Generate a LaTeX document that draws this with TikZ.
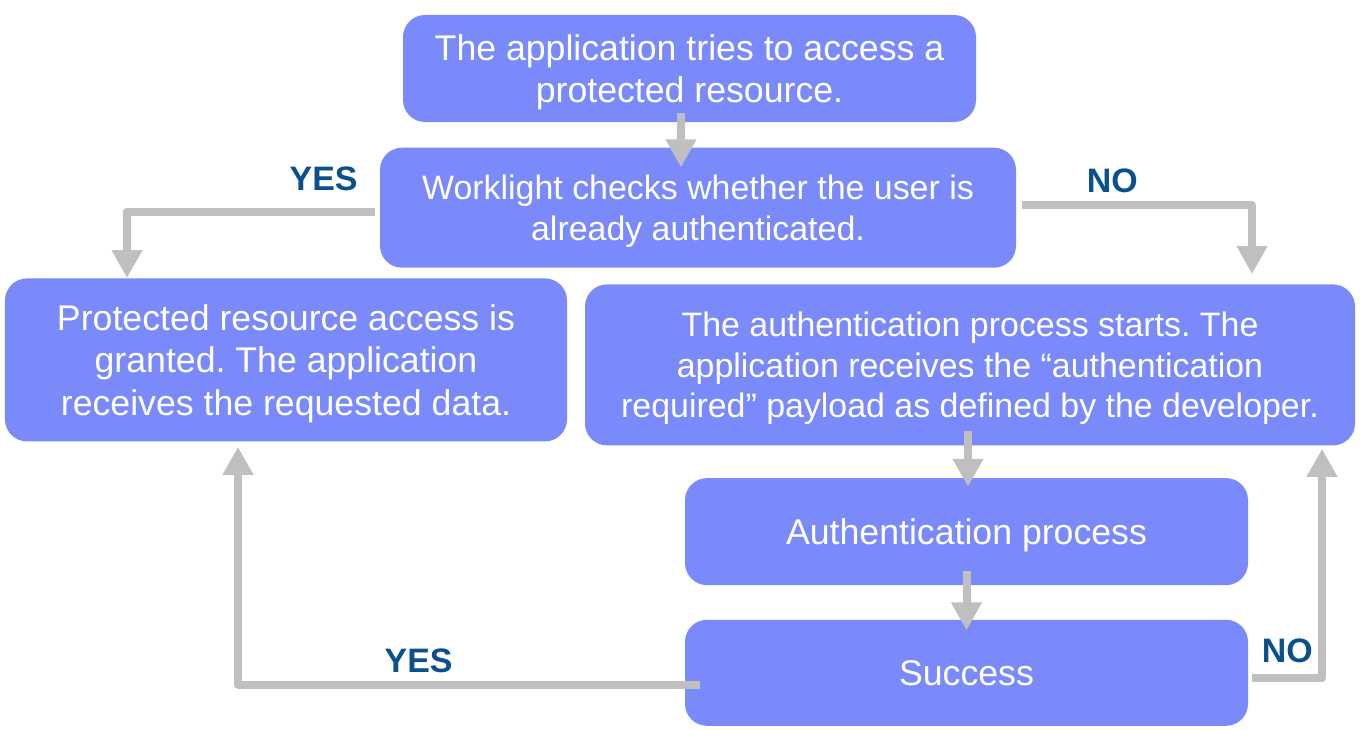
\documentclass[tikz,border=0pt]{standalone}
\usepackage{fontspec}
\setmainfont{Liberation Sans}
\frenchspacing
\usetikzlibrary{positioning}
\usetikzlibrary{arrows.meta}
\definecolor{boxblue}{RGB}{122,138,250}
\definecolor{arrowgray}{RGB}{191,191,191}
\definecolor{tagblue}{RGB}{10,80,140}
\tikzstyle{block} = [rectangle, rounded corners=0.44cm, fill=boxblue, text=white,
align=center, inner sep=0pt, text depth=0pt, font=\fontsize{20.3}{24}\selectfont]
\tikzstyle{smallblock} = [block, font=\fontsize{19.3}{23}\selectfont]
\tikzstyle{flow} = [->, draw=arrowgray, line width=0.16cm, line join=round]
\tikzstyle{tag} = [text=tagblue, inner sep=0pt, font=\fontsize{19.3}{19.3}\selectfont\bfseries]
\tikzset{>={Triangle[width=0.58cm,length=0.56cm]}}

\begin{document}
\begin{tikzpicture}
  \useasboundingbox (0,0) rectangle (27.2,-14.58);
  \node[block, minimum width=11.46cm, minimum height=2.14cm] (access) at (13.79,-1.37)
    {The application tries to access a\\protected resource.};
  \node[smallblock, minimum width=12.72cm, minimum height=2.4cm, below=0.5cm of access, xshift=0.17cm] (check)
    {Worklight checks whether the user is\\already authenticated.};
  \node[block, minimum width=11.24cm, minimum height=3.26cm, below=0.2cm of check, xshift=-8.24cm] (granted)
    {Protected resource access is\\granted. The application\\receives the requested data.};
  \node[smallblock, minimum width=15.4cm, minimum height=3.22cm, below=0.32cm of check, xshift=5.44cm] (auth)
    {The authentication process starts. The\\application receives the “authentication\\required” payload as defined by the developer.};
  \node[block, minimum width=11.26cm, minimum height=2.14cm, below=0.64cm of auth, xshift=-0.07cm] (process)
    {Authentication process};
  \node[block, minimum width=11.26cm, minimum height=2.12cm, below=0.68cm of process] (success) {Success};

  \draw[flow, shorten <=-0.18cm, shorten >=-0.4cm] ([xshift=-0.17cm]access.south) -- ([xshift=-0.17cm]access.south |- check.north);
  \draw[flow] ([xshift=-0.1cm,yshift=-0.08cm]check.west) -| ([xshift=-3.18cm]granted.north);
  \draw[flow, shorten >=0.2cm] ([xshift=0.12cm,yshift=0.06cm]check.east) -| ([xshift=5.64cm]auth.north);
  \draw[flow, shorten <=-0.3cm, shorten >=-0.18cm] ([xshift=-0.04cm]auth.south) -- ([xshift=-0.04cm]auth.south |- process.north);
  \draw[flow, shorten <=-0.28cm, shorten >=-0.22cm] (process) -- (success);
  \draw[flow, shorten >=0.1cm] ([xshift=0.3cm,yshift=-0.24cm]success.west) -| ([xshift=-0.96cm]granted.south);
  \draw[flow, shorten >=0.06cm] ([xshift=0.08cm,yshift=-0.1cm]success.east) -| ([xshift=7.04cm]auth.south);

  \node[tag] (yestop) at ([xshift=-1.12cm,yshift=0.58cm]check.west) {YES};
  \node[tag] (notop) at ([xshift=1.92cm,yshift=0.54cm]check.east) {NO};
  \node[tag] (yesbottom) at ([xshift=-5.32cm,yshift=0.24cm]success.west) {YES};
  \node[tag] (nobottom) at ([xshift=0.78cm,yshift=0.44cm]success.east) {NO};
\end{tikzpicture}
\end{document}
